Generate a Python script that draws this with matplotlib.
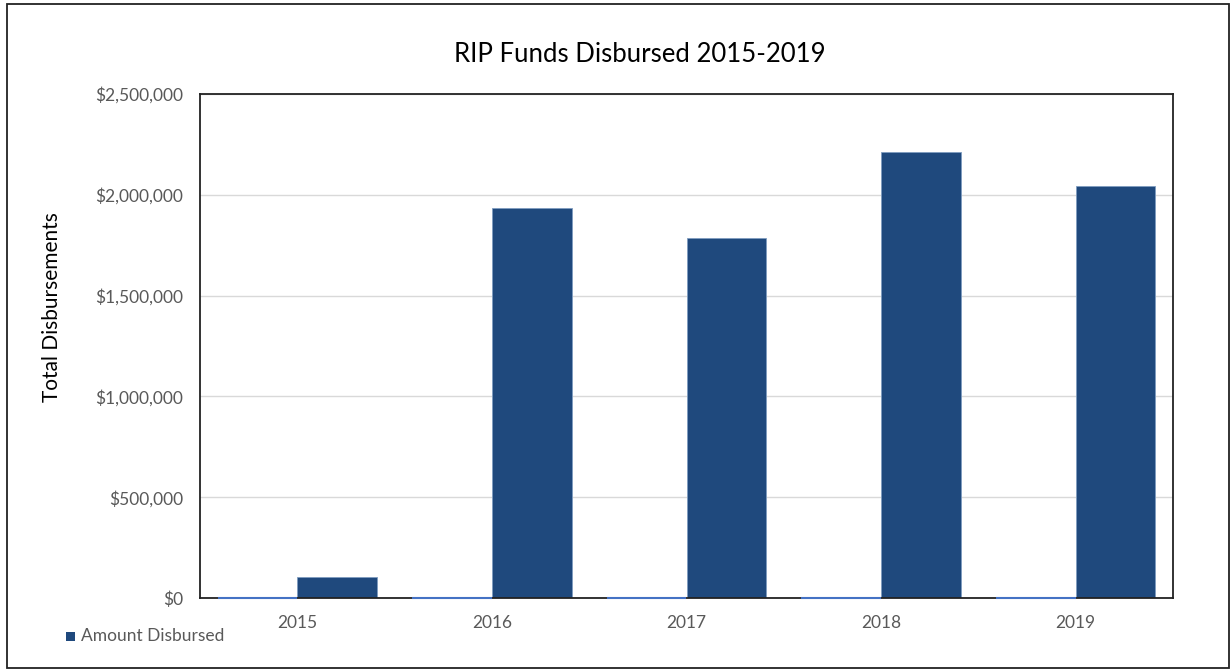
import matplotlib
matplotlib.use("Agg")
import matplotlib.pyplot as plt
import numpy as np
from matplotlib.patches import Rectangle
from matplotlib.ticker import FuncFormatter

years = ["2015", "2016", "2017", "2018", "2019"]
year_values = [2015, 2016, 2017, 2018, 2019]
amount_disbursed = [105000, 1935000, 1785000, 2212000, 2045000]
y_ticks = [0, 500000, 1000000, 1500000, 2000000, 2500000]

plt.rcParams['font.family'] = ['Lato', 'DejaVu Sans']

W, H = 1231, 670
fig = plt.figure(figsize=(W / 100, H / 100), dpi=100)
ax = fig.add_axes([200 / W, 1 - 598 / H, (1173 - 200) / W, (598 - 94) / H])

x = np.arange(len(years))
bw = 0.41
light = ax.bar(x - bw / 2, year_values, width=bw, color='#4472C4',
               edgecolor='#4472C4', linewidth=1.5, zorder=5)
for p in light:
    p.set_clip_on(False)
ax.bar(x + bw / 2, amount_disbursed, width=bw, color='#1F497D',
       edgecolor='#7f9cc0', linewidth=0.6, zorder=3, label='Amount Disbursed')

ax.set_xlim(-0.5, len(years) - 0.5)
ax.set_ylim(0, 2500000)
ax.set_yticks(y_ticks)
ax.yaxis.set_major_formatter(FuncFormatter(lambda v, p: f"${v:,.0f}"))
ax.set_xticks(x)
ax.set_xticklabels(years)
ax.grid(axis='y', color='#d9d9d9', linewidth=1, zorder=0)
ax.tick_params(axis='both', length=0, labelsize=12.5, labelcolor='#595959')
ax.tick_params(axis='x', pad=12)
ax.tick_params(axis='y', pad=12)
for s in ax.spines.values():
    s.set_color('#222222')
    s.set_linewidth(1.3)
    s.set_zorder(4)

fig.text(640 / W, 1 - 55 / H, "RIP Funds Disbursed 2015-2019", ha='center', va='center',
         fontsize=18.5, color='#000000')
fig.text(52 / W, 1 - 307 / H, "Total Disbursements", ha='center', va='center',
         rotation=90, fontsize=15, color='#000000')

# legend
fig.patches.append(Rectangle((66 / W, 1 - 641 / H), 9 / W, 9 / H, transform=fig.transFigure,
                             facecolor='#1F497D', edgecolor='none'))
fig.text(81 / W, 1 - 636 / H, "Amount Disbursed", ha='left', va='center',
         fontsize=12.5, color='#595959')

# outer border
fig.patches.append(Rectangle((7 / W, 2 / H), (1229 - 7) / W, (668 - 4) / H,
                             transform=fig.transFigure, facecolor='none',
                             edgecolor='#222222', linewidth=1.3))

fig.savefig("out.png", dpi=100)
